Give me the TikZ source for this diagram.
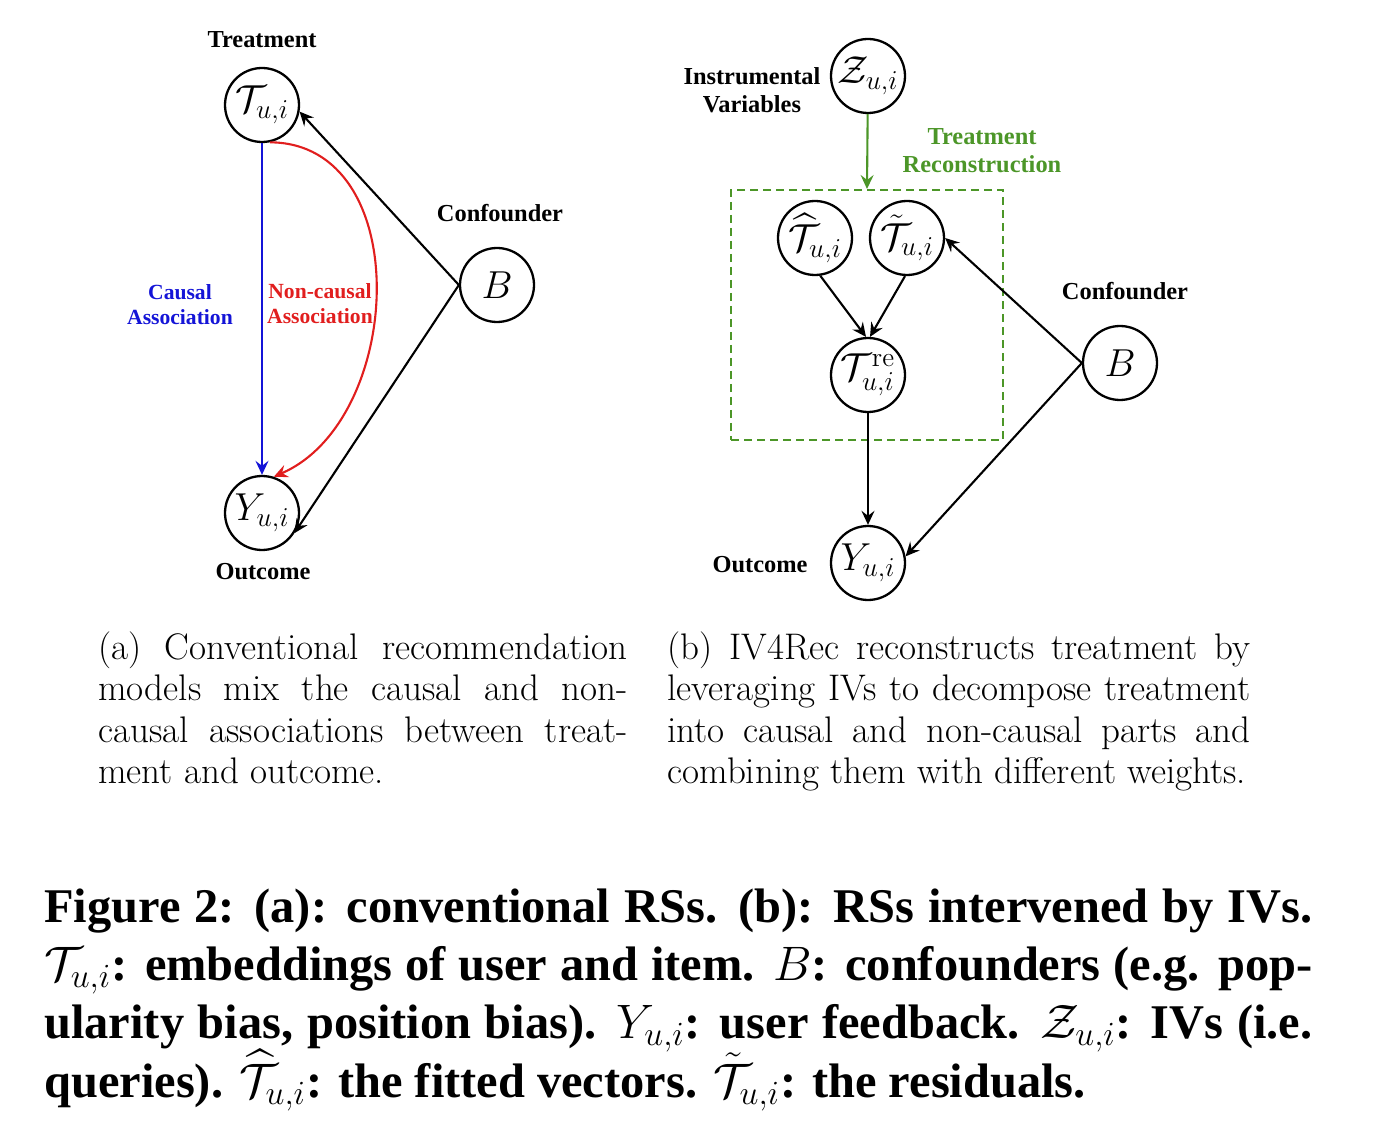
\documentclass[tikz,border=0pt]{standalone}
\usepackage{fix-cm}
\usepackage{amsmath}
\usepackage{graphicx}
\usepackage{fontspec}
\newfontfamily\labfont{Liberation Serif}
\usetikzlibrary{arrows.meta}
\definecolor{grn}{RGB}{76,150,40}
\definecolor{blu}{RGB}{20,20,215}
\definecolor{rd}{RGB}{225,30,30}
\newsavebox\jbox
\newcommand{\jline}[2]{\sbox\jbox{#2}\ifdim\wd\jbox>#1\relax\pgfmathsetmacro\jf{#1/\wd\jbox}\scalebox{\jf}[1]{\usebox\jbox}\else\makebox[#1][s]{#2}\fi}
\begin{document}
\begin{tikzpicture}[x=0.5pt,y=-0.5pt,
  var/.style={circle, draw, line width=1.15pt, minimum size=37pt, inner sep=0pt, font=\fontsize{19.5}{22}\selectfont},
  lab/.style={font=\labfont\bfseries\fontsize{12.2}{14}\selectfont, align=center},
  slab/.style={font=\labfont\bfseries\fontsize{10.8}{12.5}\selectfont, align=center},
  arr/.style={-{Stealth[length=7pt,width=6.5pt,inset=2.5pt]}, line width=1.05pt},
  subcap/.style={font=\fontsize{18.5}{21}\selectfont, anchor=base west, inner sep=0pt},
  figcap/.style={font=\labfont\bfseries\fontsize{24.2}{29}\selectfont, anchor=base west, inner sep=0pt}]
\useasboundingbox (0,0) rectangle (1378,1134);
% ---------- (a)
\node[var] (T) at (262,105) {$\mathcal{T}_{u,i}$};
\node[var] (Y) at (262,513) {$Y_{u,i}$};
\node[var] (B) at (497,285) {$B$};
\node[lab] (lt) at (262,40) {Treatment};
\node[lab] (lo) at (263,572) {Outcome};
\node[lab] (lc) at (500,213) {Confounder};
\node[slab, text=blu] (lca) at (180,305) {Causal\\Association};
\node[slab, text=rd] (lnc) at (320,304) {Non-causal\\Association};
\draw[arr, blu] (T) -- (Y);
\draw[arr, rd] (T.-78) .. controls (416,143) and (405,420) .. (Y.72);
\draw[arr] (B.west) -- (T.-10);
\draw[arr] (B.west) -- (Y.-32);
% ---------- (b)
\node[var] (Z) at (868,76) {$\mathcal{Z}_{u,i}$};
\node[var] (Th) at (815,238) {$\widehat{\mathcal{T}}_{u,i}$};
\node[var] (Tt) at (907,238) {$\tilde{\mathcal{T}}_{u,i}$};
\node[var] (Tr) at (868,375) {$\mathcal{T}^{\mathrm{re}}_{u,i}$};
\node[var] (Y2) at (868,563) {$Y_{u,i}$};
\node[var] (B2) at (1120,363) {$B$};
\node[draw=grn, dashed, dash pattern=on 4pt off 2.5pt, line width=1pt, minimum width=136pt, minimum height=125pt, inner sep=0pt] (box) at (867,315) {};
\node[lab] (liv) at (752,90) {Instrumental\\Variables};
\node[lab, text=grn] (ltr) at (982,151) {Treatment\\Reconstruction};
\node[lab] (lo2) at (760,565) {Outcome};
\node[lab] (lc2) at (1125,291) {Confounder};
\draw[arr, grn] (Z) -- (box.north);
\draw[arr] (Th.-82) -- (Tr.93);
\draw[arr] (Tt.-93) -- (Tr.87);
\draw[arr] (Tr) -- (Y2);
\draw[arr] (B2.west) -- (Tt.east);
\draw[arr] (B2.west) -- (Y2.10);
% ---------- subcaptions
\node[subcap] (a1) at (98,659) {\jline{264.5pt}{(a) Conventional recommendation}};
\node[subcap] (a2) at (98,700) {\jline{264.5pt}{models mix the causal and non-}};
\node[subcap] (a3) at (98,742) {\jline{264.5pt}{causal associations between treat-}};
\node[subcap] (a4) at (98,783) {ment and outcome.};
\node[subcap] (b1) at (667,659) {\jline{291.5pt}{(b) IV4Rec reconstructs treatment by}};
\node[subcap] (b2) at (667,700) {\jline{291.5pt}{leveraging IVs to decompose treatment}};
\node[subcap] (b3) at (667,742) {\jline{291.5pt}{into causal and non-causal parts and}};
\node[subcap] (b4) at (667,783) {combining them with different weights.};
% ---------- caption
\node[figcap] (c1) at (44,922) {\jline{634pt}{Figure 2: (a): conventional RSs. (b): RSs intervened by IVs.}};
\node[figcap] (c2) at (44,980) {\jline{634pt}{$\mathcal{T}_{u,i}$: embeddings of user and item. $B$: confounders (e.g. pop-}};
\node[figcap] (c3) at (44,1038) {\jline{634pt}{ularity bias, position bias). $Y_{u,i}$: user feedback. $\mathcal{Z}_{u,i}$: IVs (i.e.}};
\node[figcap] (c4) at (44,1097) {queries). $\widehat{\mathcal{T}}_{u,i}$: the fitted vectors. $\tilde{\mathcal{T}}_{u,i}$: the residuals.};
\end{tikzpicture}
\end{document}
